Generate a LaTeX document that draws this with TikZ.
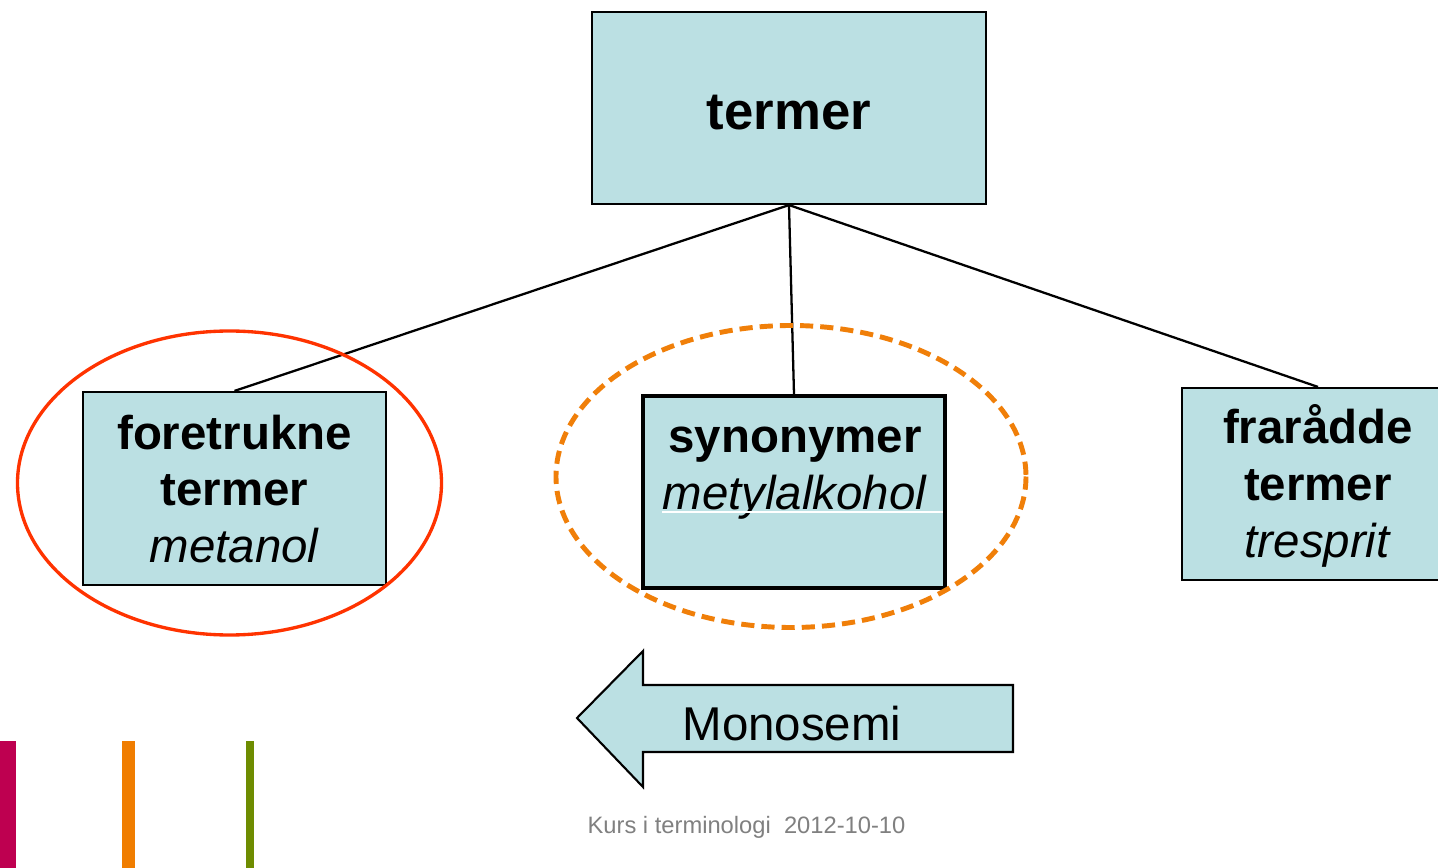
\documentclass[tikz,border=0pt]{standalone}
\usepackage{fontspec}
\setmainfont{Liberation Sans}
\definecolor{boxfill}{RGB}{187,224,227}
\definecolor{redring}{RGB}{255,51,0}
\definecolor{orring}{RGB}{240,127,9}
\definecolor{barmag}{RGB}{190,0,80}
\definecolor{barorg}{RGB}{240,125,0}
\definecolor{bargrn}{RGB}{110,140,0}
\definecolor{footgray}{RGB}{128,128,128}
\tikzset{
  box/.style={draw=black, fill=boxfill, line width=1.2pt, inner sep=0pt},
  conn/.style={draw=black, line width=1.3pt},
  lbl/.style={align=center, inner sep=0pt, font=\fontsize{27}{32.3}\selectfont},
}
\begin{document}
\begin{tikzpicture}[x=0.02cm, y=-0.02cm]
\clip (0,0) rectangle (1438,868);
\fill[white] (0,0) rectangle (1438,868);

% boxes
\node[box, minimum width=394*0.02cm, minimum height=192*0.02cm] (top) at (789,108) {};
\node[lbl, font=\fontsize{30}{36}\selectfont\bfseries] (toptext) at (789,113) {termer};

\node[box, minimum width=303*0.02cm, minimum height=193*0.02cm] (pref) at (234.5,488.5) {};
\node[lbl] (preftext) at (234.5,489) {\textbf{foretrukne}\\\textbf{termer}\\\textit{metanol}};

\node[box, line width=2pt, minimum width=302*0.02cm, minimum height=192*0.02cm] (syn) at (794,492) {};
\node[lbl] (syntext) at (795,473) {\textbf{synonymer}\\\textit{metylalkohol}};
\draw[white, line width=0.6pt] (662,512) -- (943,512);

\node[box, minimum width=272*0.02cm, minimum height=192*0.02cm] (fra) at (1318,484) {};
\node[lbl] (fratext) at (1318,486) {\textbf{frarådde}\\\textbf{termer}\\\textit{tresprit}};

% connectors
\draw[conn] (top.south) -- (pref.north);
\draw[conn] (top.south) -- (syn.north);
\draw[conn] (top.south) -- (fra.north);

% rings
\draw[redring, line width=1.9pt] (229.5,483) ellipse [x radius=212, y radius=152];
\draw[orring, line width=2.8pt, dash pattern=on 7.5pt off 4pt] (791,476.5) ellipse [x radius=235, y radius=151];

% arrow
\draw[fill=boxfill, line width=1.2pt, line join=miter]
  (577,718) -- (643,651) -- (643,685) -- (1013,685) -- (1013,752) -- (643,752) -- (643,787) -- cycle;
\node[inner sep=0pt, font=\fontsize{27}{32}\selectfont] (mono) at (792,724) {Monosemi};

% footer
\node[inner sep=0pt, text=footgray, font=\fontsize{13.5}{16}\selectfont] (foot) at (746.5,827) {Kurs i terminologi\ \ 2012-10-10};

% bars
\fill[barmag] (0,741) rectangle (16,868);
\fill[barorg] (122,741) rectangle (135,868);
\fill[bargrn] (246,741) rectangle (254,868);
\end{tikzpicture}
\end{document}
